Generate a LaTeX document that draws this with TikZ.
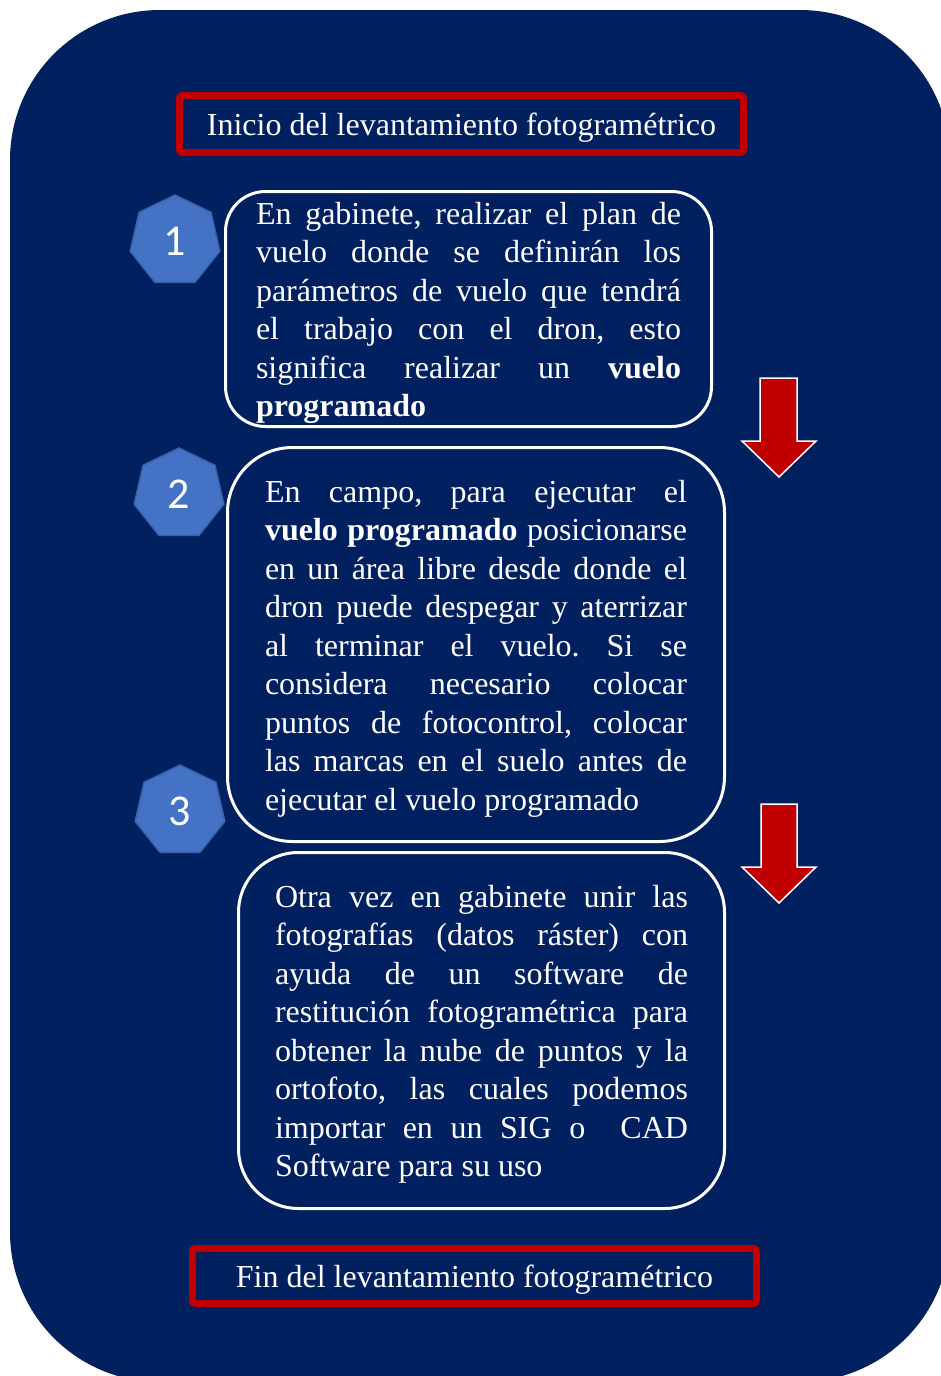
\documentclass[tikz,border=0pt]{standalone}
\usepackage{fontspec}
\setmainfont{Liberation Serif}
\newfontfamily\numfont{Carlito}
\usetikzlibrary{shapes.geometric}
\definecolor{bgblue}{HTML}{002060}
\definecolor{boxred}{HTML}{C00000}
\definecolor{hepblue}{HTML}{4472C4}
\definecolor{hepedge}{HTML}{3A62AA}
\frenchspacing
\newcommand\jline[2]{\makebox[#1][s]{#2}}
\newcommand\toprule{\rule{0pt}{30pt}}
\tikzset{
  redbox/.style={draw=boxred, line width=7pt, rounded corners=3pt, text=white,
    font=\fontsize{32}{38.5}\selectfont, inner sep=0pt, minimum width=564pt,
    text height=30.5pt, text depth=7pt},
  stepbox/.style={draw=white, line width=3pt, text=white, align=left,
    font=\fontsize{32}{38.5}\selectfont, inner sep=0pt},
  hepta/.style={regular polygon, regular polygon sides=7, minimum size=92pt,
    inner sep=0pt, fill=hepblue, draw=hepedge, line width=1.5pt, text=white,
    font=\numfont\fontsize{44}{44}\selectfont},
  blockarrow/.style={fill=boxred, draw=white, line width=1.5pt, line join=miter}
}
\begin{document}
\begin{tikzpicture}[x=1pt,y=-1pt]
\useasboundingbox (0,0) rectangle (941,1376);
\begin{scope}
\clip (0,0) rectangle (941,1376);
\fill[bgblue, rounded corners=150pt] (10,10) rectangle (950,1382);
\end{scope}

\node[redbox, minimum height=57pt] (start) at (461.5,124) {Inicio del levantamiento fotogramétrico};

\node[stepbox, rounded corners=40pt, minimum width=486pt, minimum height=235pt] (b1) at (468.5,309) {%
\jline{425pt}{\toprule En gabinete, realizar el plan de}\\
\jline{425pt}{vuelo donde se definirán los}\\
\jline{425pt}{parámetros de vuelo que tendrá}\\
\jline{425pt}{el trabajo con el dron, esto}\\
\jline{425pt}{significa realizar un \textbf{vuelo}}\\
\textbf{programado}};

\node[stepbox, rounded corners=65pt, minimum width=497pt, minimum height=394pt] (b2) at (476,644.5) {%
\jline{422pt}{\toprule En campo, para ejecutar el}\\
\jline{422pt}{\textbf{vuelo programado} posicionarse}\\
\jline{422pt}{en un área libre desde donde el}\\
\jline{422pt}{dron puede despegar y aterrizar}\\
\jline{422pt}{al terminar el vuelo. Si se}\\
\jline{422pt}{considera necesario colocar}\\
\jline{422pt}{puntos de fotocontrol, colocar}\\
\jline{422pt}{las marcas en el suelo antes de}\\
ejecutar el vuelo programado};

\node[stepbox, rounded corners=60pt, minimum width=486pt, minimum height=356pt] (b3) at (481.5,1030.5) {%
\jline{413pt}{\toprule Otra vez en gabinete unir las}\\
\jline{413pt}{fotografías (datos ráster) con}\\
\jline{413pt}{ayuda de un software de}\\
\jline{413pt}{restitución fotogramétrica para}\\
\jline{413pt}{obtener la nube de puntos y la}\\
\jline{413pt}{ortofoto, las cuales podemos}\\
\jline{413pt}{importar en un SIG o \ CAD}\\
Software para su uso};

\node[redbox, minimum height=55pt] (end) at (474.5,1276) {Fin del levantamiento fotogramétrico};

\node[hepta] (n1) at (175,241) {1};
\node[hepta] (n2) at (179,494) {2};
\node[hepta] (n3) at (180,811) {3};

\draw[blockarrow] (760,378) -- (797,378) -- (797,441) -- (816,441) -- (779,477) -- (742,441) -- (760,441) -- cycle;
\draw[blockarrow] (761,804) -- (797,804) -- (797,867) -- (816,867) -- (779,903) -- (742,867) -- (761,867) -- cycle;
\end{tikzpicture}
\end{document}
